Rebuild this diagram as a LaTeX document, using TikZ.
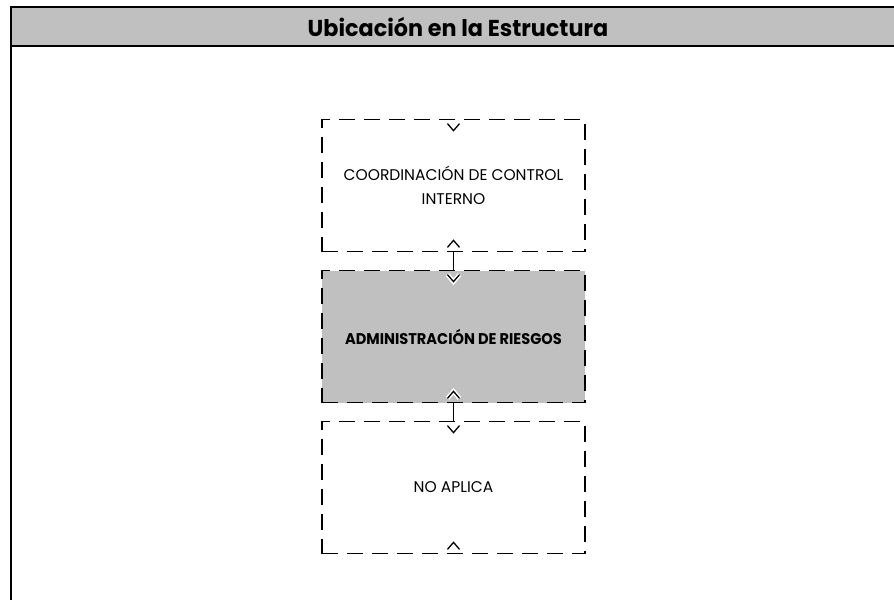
\documentclass[tikz,border=0pt]{standalone}
\usepackage{fontspec}
\setmainfont{Poppins}
\newfontfamily\titlefont[FakeStretch=0.97]{Poppins}
\newfontfamily\riskfont[FakeStretch=0.94]{Poppins}
\usetikzlibrary{positioning}
\definecolor{panelgray}{RGB}{192,192,192}

\begin{document}
\begin{tikzpicture}[x=1pt,y=-1pt,node distance=151pt,
    unit/.style={draw,dash pattern=on 16pt off 9pt,line width=1.7pt,
      minimum width=263pt,minimum height=132pt,align=center,inner sep=0pt,
      font=\fontsize{15.5}{24}\selectfont},
    notch/.style={line width=1.3pt},
    halo/.style={white,line width=4.5pt}]

  \useasboundingbox (0,0) rectangle (894,600);

  % encabezado
  \fill[panelgray] (11,7) rectangle (894,46);
  \draw[line width=2pt] (894,7) -- (11,7) -- (11,600) (11,46) -- (894,46);
  \node (title) at (458,27) {\titlefont\bfseries\fontsize{23}{23}\selectfont Ubicación en la Estructura};

  % cajas
  \node[unit] (coord) at (453.5,185.5) {COORDINACIÓN DE CONTROL\\INTERNO};
  \node[unit,fill=panelgray] (admin) [below of=coord] {\riskfont\bfseries ADMINISTRACIÓN DE RIESGOS};
  \node[unit] (noap) [below of=admin] {NO APLICA};

  % conectores
  \draw[notch] (coord) -- (admin)
               (admin) -- (noap);

  \foreach \b in {coord,admin,noap} {
    \draw[halo]  ([shift={(-6,5)}]\b.north) -- ++(6,7) -- ++(6,-7);
    \draw[notch] ([shift={(-6,5)}]\b.north) -- ++(6,7) -- ++(6,-7);
    \draw[halo]  ([shift={(-6,-5)}]\b.south) -- ++(6,-7) -- ++(6,7);
    \draw[notch] ([shift={(-6,-5)}]\b.south) -- ++(6,-7) -- ++(6,7);
  }

\end{tikzpicture}
\end{document}
